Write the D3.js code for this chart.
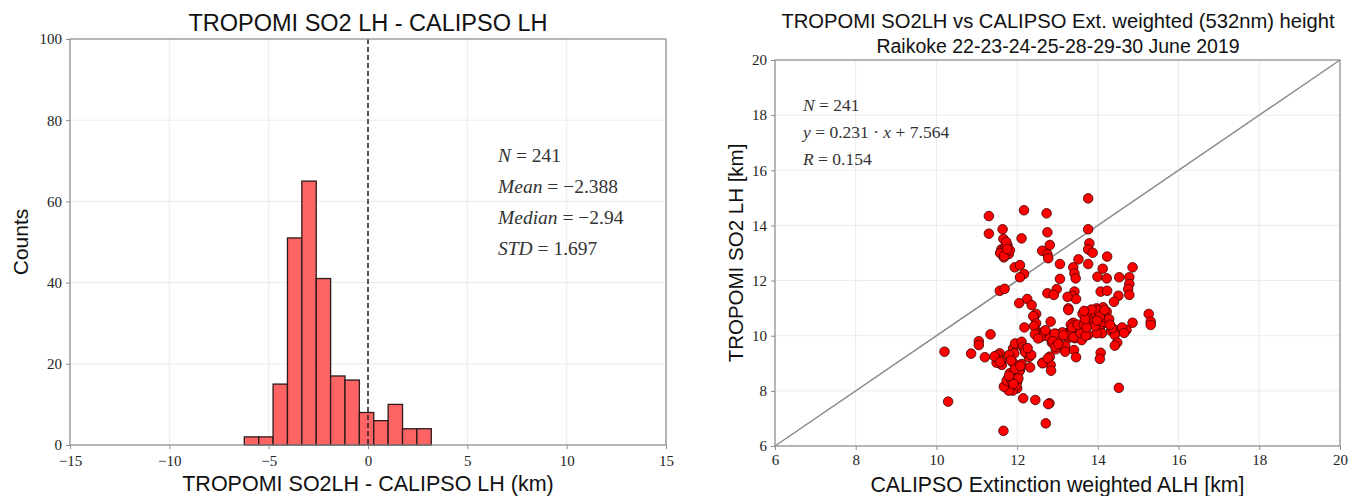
<!DOCTYPE html>
<html>
<head>
<meta charset="utf-8">
<script src="https://cdn.jsdelivr.net/npm/d3@7"></script>
<style>
  html, body { margin: 0; padding: 0; background: #fff; }
  svg { display: block; }
  .tick text { font-family: "Liberation Serif", "DejaVu Serif", serif; }
</style>
</head>
<body>
<svg id="chart" width="1353" height="496"></svg>
<script>
// ---------------- DATA ----------------
// Histogram of TROPOMI SO2LH - CALIPSO LH (km)
const histBinEdges = [-6.226, -5.502, -4.778, -4.054, -3.330, -2.606, -1.882, -1.158, -0.434, 0.290, 1.014, 1.738, 2.462, 3.186];
const histCounts   = [2, 2, 15, 51, 65, 41, 17, 16, 8, 6, 10, 4, 4];
const histXTicks = [-15, -10, -5, 0, 5, 10, 15];
const histYTicks = [0, 20, 40, 60, 80, 100];
const histStats = [
  { name: "N", value: "241" },
  { name: "Mean", value: "\u22122.388" },
  { name: "Median", value: "\u22122.94" },
  { name: "STD", value: "1.697" }
];

// Scatter: CALIPSO extinction weighted ALH (x) vs TROPOMI SO2 LH (y), km
const calipsoALH = [
  11.30,12.17,12.73,11.30,11.64,11.66,11.76,11.61,11.59,11.79,11.67,12.11,12.75,12.62,12.75,12.77,11.94,12.07,12.17,12.07,
  11.57,11.69,12.75,12.25,12.05,12.36,12.47,12.42,
  12.81,13.76,13.76,13.79,13.76,13.87,14.23,13.06,13.52,13.39,13.76,13.42,13.45,13.06,14.12,14.86,13.99,14.22,14.53,14.78,
  14.78,14.75,14.78,12.98,12.91,13.42,13.38,13.46,13.25,14.07,14.23,14.51,14.40,13.27,
  13.27,12.83,13.79,13.97,14.13,14.22,13.99,14.08,13.89,13.80,13.95,14.09,14.26,14.05,14.10,13.97,14.33,14.42,14.42,14.48,
  14.42,14.71,14.86,15.26,15.31,15.31,13.39,13.38,13.46,13.31,13.54,13.43,13.60,13.27,13.23,13.10,12.98,12.86,12.71,13.76,
  13.19,13.19,13.41,13.46,14.07,14.05,12.86,12.96,12.81,12.83,12.84,12.63,14.52,12.80,12.71,
  10.20,10.29,10.86,11.05,11.05,11.20,11.34,11.49,11.57,11.53,11.62,11.49,11.90,11.93,11.90,11.95,12.11,12.14,12.19,12.11,
  12.29,12.32,12.07,11.95,11.82,11.78,11.89,12.00,12.00,12.00,11.89,11.79,11.67,11.74,12.15,12.45,12.77,11.66,12.18,12.40,
  12.47,12.48,12.42,12.61,12.73,12.63,12.76,
  // overlapping points inside the dense clusters
  13.85,13.92,14.02,14.15,14.18,13.90,14.00,14.12,13.84,14.20,14.05,13.93,14.28,14.16,13.98,
  13.35,13.48,13.33,13.52,13.44,13.29,13.40,13.57,13.36,13.50,
  11.85,11.92,11.98,12.05,11.86,11.95,12.03,11.80,11.91,12.08,
  11.70,11.62,11.73,11.58,11.68,11.82,11.75,
  12.55,12.66,12.58,12.44,12.70,12.52,
  13.00,13.12,13.05,12.93,13.15,
  11.52,11.60,11.44,11.58,
  14.60,14.65,14.35,14.30,
  12.20,12.35,12.26,
  13.70,13.65,13.62,13.72,13.68,13.66,
  12.88,12.95,13.02,
  11.80,11.85
];
const tropomiLH = [
  14.34,14.55,14.44,13.70,13.86,13.51,13.28,13.13,13.01,12.96,12.84,13.53,13.75,13.08,12.96,12.81,12.48,12.56,12.24,12.12,
  11.63,11.70,11.54,11.33,11.18,11.11,10.79,10.69,
  13.29,14.98,13.86,13.35,13.13,13.01,12.87,12.60,12.77,12.48,12.60,12.26,12.08,12.06,12.43,12.48,12.14,12.08,12.12,12.12,
  11.88,11.69,11.48,11.69,11.48,11.60,11.44,11.33,11.41,11.60,11.63,11.45,11.23,10.99,
  10.93,10.51,10.87,10.99,11.03,10.87,10.79,10.63,10.67,10.45,10.45,10.39,10.47,10.21,10.09,10.09,10.18,10.21,10.03,9.75,
  9.64,10.21,10.47,10.79,10.51,10.39,10.47,10.27,10.33,10.15,10.03,9.91,9.84,9.91,10.09,10.09,10.06,10.03,10.03,10.03,
  9.63,9.42,9.48,9.22,9.38,9.16,9.75,9.51,9.24,8.94,8.73,9.02,8.11,7.55,6.82,
  9.42,7.61,9.35,9.80,9.66,9.22,10.05,9.26,9.36,9.14,8.94,9.02,9.54,9.36,9.02,9.72,9.78,9.60,9.51,8.97,
  9.22,8.85,8.76,8.69,8.64,8.45,8.33,8.55,8.33,8.09,8.01,8.01,8.15,8.37,7.73,7.67,7.52,6.55,10.30,10.71,
  10.45,10.15,10.35,10.03,9.99,9.00,9.18,
  10.72,10.55,10.60,10.75,10.58,10.85,10.92,10.50,10.95,10.65,10.70,10.35,10.60,10.93,10.55,
  10.20,10.10,10.40,10.15,10.25,10.00,9.95,10.10,10.30,10.40,
  8.40,8.60,8.20,8.70,8.50,8.80,8.45,8.55,8.25,8.90,
  13.20,13.05,13.40,13.00,12.90,13.10,13.15,
  10.10,10.15,9.95,10.05,10.20,9.90,
  10.00,10.12,9.95,10.08,10.02,
  9.30,9.10,9.25,9.05,
  10.30,10.10,10.28,10.40,
  9.40,9.30,9.55,
  10.00,10.40,10.80,10.30,10.60,10.90,
  9.80,9.60,9.70,
  9.30,9.10
];
const scatterTicks = [6, 8, 10, 12, 14, 16, 18, 20];
const scatterStats = { n: "241", slope: "0.231", intercept: "7.564", r: "0.154" };

// ---------------- DRAW ----------------
const svg = d3.select("#chart");
const serif = '"Liberation Serif", "DejaVu Serif", serif';
const sans = '"Liberation Sans", "DejaVu Sans", sans-serif';
const gridColor = "#ebebeb";
const spineColor = "#8c8c8c";

function styleAxis(g) {
  g.select(".domain").remove();
  g.selectAll(".tick line").attr("stroke", spineColor);
  g.selectAll(".tick text").attr("fill", "#222").style("font-size", "15px");
}

// ===== Histogram panel =====
const H = { left: 70, right: 666, top: 39, bottom: 445 };
const hx = d3.scaleLinear().domain([-15, 15]).range([H.left, H.right]);
const hy = d3.scaleLinear().domain([0, 100]).range([H.bottom, H.top]);
const gH = svg.append("g");

// grid
gH.append("g").selectAll("line").data(histXTicks).join("line")
  .attr("x1", d => hx(d)).attr("x2", d => hx(d)).attr("y1", H.top).attr("y2", H.bottom)
  .attr("stroke", gridColor).attr("stroke-width", 1);
gH.append("g").selectAll("line").data(histYTicks).join("line")
  .attr("x1", H.left).attr("x2", H.right).attr("y1", d => hy(d)).attr("y2", d => hy(d))
  .attr("stroke", gridColor).attr("stroke-width", 1);

// bars
const bins = histCounts.map((c, i) => ({ x0: histBinEdges[i], x1: histBinEdges[i + 1], c }));
gH.append("g").selectAll("rect").data(bins).join("rect")
  .attr("x", d => hx(d.x0)).attr("width", d => hx(d.x1) - hx(d.x0))
  .attr("y", d => hy(d.c)).attr("height", d => hy(0) - hy(d.c))
  .attr("fill", "#ff6464").attr("stroke", "#2a1a1a").attr("stroke-width", 1.3);

// dashed zero line
gH.append("line")
  .attr("x1", hx(0)).attr("x2", hx(0)).attr("y1", H.top).attr("y2", H.bottom)
  .attr("stroke", "#222").attr("stroke-width", 1.5).attr("stroke-dasharray", "5,3");

// frame
gH.append("rect").attr("x", H.left).attr("y", H.top)
  .attr("width", H.right - H.left).attr("height", H.bottom - H.top)
  .attr("fill", "none").attr("stroke", spineColor).attr("stroke-width", 1.2);

// axes
gH.append("g").attr("transform", `translate(0,${H.bottom})`)
  .call(d3.axisBottom(hx).tickValues(histXTicks).tickSize(4).tickPadding(6)
    .tickFormat(d => d < 0 ? "\u2212" + Math.abs(d) : d))
  .call(styleAxis);
gH.append("g").attr("transform", `translate(${H.left},0)`)
  .call(d3.axisLeft(hy).tickValues(histYTicks).tickSize(4).tickPadding(4))
  .call(styleAxis);

// titles and labels
svg.append("text").attr("x", (H.left + H.right) / 2).attr("y", 31)
  .attr("text-anchor", "middle").style("font-family", sans).style("font-size", "23.5px")
  .attr("fill", "#111").text("TROPOMI SO2 LH - CALIPSO LH");
svg.append("text").attr("x", (H.left + H.right) / 2).attr("y", 491)
  .attr("text-anchor", "middle").style("font-family", sans).style("font-size", "21.5px")
  .attr("fill", "#111").text("TROPOMI SO2LH - CALIPSO LH (km)");
svg.append("text").attr("transform", `translate(28,${(H.top + H.bottom) / 2}) rotate(-90)`)
  .attr("text-anchor", "middle").style("font-family", sans).style("font-size", "21px")
  .attr("fill", "#111").text("Counts");

// stats box
histStats.forEach((s, i) => {
  const t = svg.append("text").attr("x", 498).attr("y", 162 + i * 31)
    .style("font-family", serif).style("font-size", "19.5px").attr("fill", "#333");
  t.append("tspan").style("font-style", "italic").text(s.name);
  t.append("tspan").text(" = " + s.value);
});

// ===== Scatter panel =====
const S = { left: 775, right: 1340, top: 60, bottom: 446 };
const sx = d3.scaleLinear().domain([6, 20]).range([S.left, S.right]);
const sy = d3.scaleLinear().domain([6, 20]).range([S.bottom, S.top]);
const gS = svg.append("g");

gS.append("g").selectAll("line").data(scatterTicks).join("line")
  .attr("x1", d => sx(d)).attr("x2", d => sx(d)).attr("y1", S.top).attr("y2", S.bottom)
  .attr("stroke", gridColor);
gS.append("g").selectAll("line").data(scatterTicks).join("line")
  .attr("x1", S.left).attr("x2", S.right).attr("y1", d => sy(d)).attr("y2", d => sy(d))
  .attr("stroke", gridColor);

// 1:1 line
gS.append("line").attr("x1", sx(6)).attr("y1", sy(6)).attr("x2", sx(20)).attr("y2", sy(20))
  .attr("stroke", "#8a8a8a").attr("stroke-width", 1.5);

// points
const pts = calipsoALH.map((x, i) => ({ x, y: tropomiLH[i] }));
gS.append("g").selectAll("circle").data(pts).join("circle")
  .attr("cx", d => sx(d.x)).attr("cy", d => sy(d.y)).attr("r", 4.8)
  .attr("fill", "#ff0000").attr("stroke", "#3a0000").attr("stroke-width", 0.8);

// frame
gS.append("rect").attr("x", S.left).attr("y", S.top)
  .attr("width", S.right - S.left).attr("height", S.bottom - S.top)
  .attr("fill", "none").attr("stroke", spineColor).attr("stroke-width", 1.2);

gS.append("g").attr("transform", `translate(0,${S.bottom})`)
  .call(d3.axisBottom(sx).tickValues(scatterTicks).tickSize(4).tickPadding(4))
  .call(styleAxis);
gS.append("g").attr("transform", `translate(${S.left},0)`)
  .call(d3.axisLeft(sy).tickValues(scatterTicks).tickSize(4).tickPadding(4))
  .call(styleAxis);

svg.append("text").attr("x", 1058).attr("y", 28)
  .attr("text-anchor", "middle").style("font-family", sans).style("font-size", "20.2px")
  .attr("fill", "#111").text("TROPOMI SO2LH vs CALIPSO Ext. weighted (532nm) height");
svg.append("text").attr("x", 1058).attr("y", 53)
  .attr("text-anchor", "middle").style("font-family", sans).style("font-size", "19.5px")
  .attr("fill", "#111").text("Raikoke 22-23-24-25-28-29-30 June 2019");
svg.append("text").attr("x", (S.left + S.right) / 2).attr("y", 492)
  .attr("text-anchor", "middle").style("font-family", sans).style("font-size", "21.3px")
  .attr("fill", "#111").text("CALIPSO Extinction weighted ALH [km]");
svg.append("text").attr("transform", `translate(743,${(S.top + S.bottom) / 2}) rotate(-90)`)
  .attr("text-anchor", "middle").style("font-family", sans).style("font-size", "20.5px")
  .attr("fill", "#111").text("TROPOMI SO2 LH [km]");

// regression stats
const statSize = "17.5px";
const st1 = svg.append("text").attr("x", 803).attr("y", 111).style("font-family", serif)
  .style("font-size", statSize).attr("fill", "#333");
st1.append("tspan").style("font-style", "italic").text("N");
st1.append("tspan").text(" = " + scatterStats.n);
const st2 = svg.append("text").attr("x", 803).attr("y", 138).style("font-family", serif)
  .style("font-size", statSize).attr("fill", "#333");
st2.append("tspan").style("font-style", "italic").text("y");
st2.append("tspan").text(" = " + scatterStats.slope + " \u00b7 ");
st2.append("tspan").style("font-style", "italic").text("x");
st2.append("tspan").text(" + " + scatterStats.intercept);
const st3 = svg.append("text").attr("x", 803).attr("y", 165).style("font-family", serif)
  .style("font-size", statSize).attr("fill", "#333");
st3.append("tspan").style("font-style", "italic").text("R");
st3.append("tspan").text(" = " + scatterStats.r);
</script>
</body>
</html>
